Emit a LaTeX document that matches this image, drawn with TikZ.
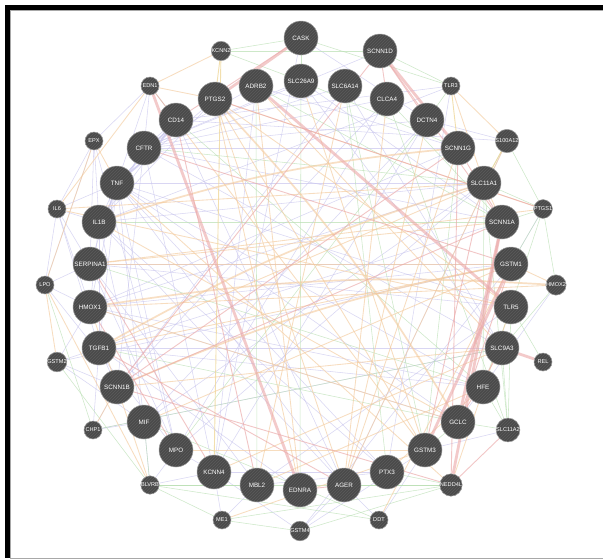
\documentclass[tikz,border=0pt]{standalone}
\usepackage{fontspec}
\setmainfont{Liberation Sans}
\usetikzlibrary{patterns}
\definecolor{ngray}{HTML}{4A4A4A}
\definecolor{nstripe}{HTML}{5C5C5C}
\definecolor{nborder}{HTML}{A0A0A0}
\definecolor{elav}{HTML}{C9C6EE}
\definecolor{egreen}{HTML}{B9DFB2}
\definecolor{eorange}{HTML}{F4CB9E}
\definecolor{eyellow}{HTML}{EFD89A}
\definecolor{epink}{HTML}{EBA8A8}
\definecolor{framegray}{HTML}{A8A8A8}
\pgfdeclarelayer{back}
\pgfdeclarelayer{bg}
\pgfsetlayers{back,bg,main}
\begin{document}
\begin{tikzpicture}[x=1pt,y=-1pt,
  gene/.style={circle, inner sep=0pt, minimum size=34pt, preaction={fill=ngray},
    pattern=north east lines, pattern color=nstripe, draw=nborder, line width=0.5pt,
    text=white, font=\fontsize{6.3}{6.3}\selectfont},
  sgene/.style={gene, minimum size=18pt, font=\fontsize{5.6}{5.6}\selectfont},
  lav/.style={draw=elav, line width=0.55pt, opacity=0.7},
  grn/.style={draw=egreen, line width=0.55pt, opacity=0.7},
  org/.style={draw=eorange, line width=0.85pt, opacity=0.65},
  ylw/.style={draw=eyellow, line width=0.9pt, opacity=0.8},
  pnk/.style={draw=epink, line width=0.9pt, opacity=0.65},
  thickpnk/.style={draw=epink, line width=2.8pt, opacity=0.6},
  midorg/.style={draw=eorange, line width=1.7pt, opacity=0.6}]
\useasboundingbox (0,0) rectangle (603,560);
\begin{pgfonlayer}{back}
\fill[white] (0,0) rectangle (603,560);
\fill[black] (5,5) rectangle (603,10);
\fill[black] (5,5) rectangle (10,558);
\draw[framegray, line width=0.8pt] (10,10.6) -- (603,10.6);
\draw[framegray, line width=0.8pt] (10.6,10) -- (10.6,558);
\draw[framegray, line width=1.5pt] (10,558.5) -- (603,558.5);
\end{pgfonlayer}

% nodes
\node[gene] (CASK) at (301,38) {CASK};
\node[sgene] (KCNN2) at (221,51) {KCNN2};
\node[gene] (SCNN1D) at (380,51) {SCNN1D};
\node[sgene] (EDN1) at (150,86) {EDN1};
\node[gene] (PTGS2) at (215,99) {PTGS2};
\node[gene] (ADRB2) at (256,86) {ADRB2};
\node[gene] (SLC26A9) at (301,81) {SLC26A9};
\node[gene] (SLC6A14) at (345,86) {SLC6A14};
\node[gene] (CLCA4) at (387,99) {CLCA4};
\node[sgene] (TLR3) at (451,86) {TLR3};
\node[gene] (CD14) at (176,120) {CD14};
\node[gene] (DCTN4) at (427,120) {DCTN4};
\node[sgene] (EPX) at (94,141) {EPX};
\node[gene] (CFTR) at (144,148) {CFTR};
\node[gene] (SCNN1G) at (458,148) {SCNN1G};
\node[sgene] (S100A12) at (507,141) {S100A12};
\node[gene] (TNF) at (117,183) {TNF};
\node[gene] (SLC11A1) at (484,183) {SLC11A1};
\node[sgene] (IL6) at (57,209) {IL6};
\node[sgene] (PTGS1) at (543,209) {PTGS1};
\node[gene] (IL1B) at (99,222) {IL1B};
\node[gene] (SCNN1A) at (502,222) {SCNN1A};
\node[gene] (SERPINA1) at (90,264) {SERPINA1};
\node[gene] (GSTM1) at (511,264) {GSTM1};
\node[sgene] (LPO) at (45,285) {LPO};
\node[sgene] (HMOX2) at (556,285) {HMOX2};
\node[gene] (HMOX1) at (90,307) {HMOX1};
\node[gene] (TLR5) at (511,307) {TLR5};
\node[gene] (TGFB1) at (99,348) {TGFB1};
\node[gene] (SLC9A3) at (502,348) {SLC9A3};
\node[sgene] (GSTM2) at (57,362) {GSTM2};
\node[sgene] (REL) at (543,362) {REL};
\node[gene] (SCNN1B) at (117,387) {SCNN1B};
\node[gene] (HFE) at (483,387) {HFE};
\node[gene] (MIF) at (144,422) {MIF};
\node[sgene] (CHP1) at (93,430) {CHP1};
\node[gene] (GCLC) at (458,422) {GCLC};
\node[sgene] (SLC11A2) at (508,430) {SLC11A2};
\node[gene] (MPO) at (176,450) {MPO};
\node[gene] (GSTM3) at (425,450) {GSTM3};
\node[gene] (KCNN4) at (214,472) {KCNN4};
\node[gene] (PTX3) at (387,472) {PTX3};
\node[sgene] (BLVRB) at (150,485) {BLVRB};
\node[sgene] (NEDD4L) at (451,485) {NEDD4L};
\node[gene] (MBL2) at (257,485) {MBL2};
\node[gene] (AGER) at (344,485) {AGER};
\node[gene] (EDNRA) at (300,490) {EDNRA};
\node[sgene] (ME1) at (222,520) {ME1};
\node[sgene] (DDT) at (379,520) {DDT};
\node[sgene] (GSTM4) at (300,531) {GSTM4};

\begin{pgfonlayer}{bg}
% lavender edges
\foreach \a/\b in {TNF/IL1B, TNF/IL6, TNF/CD14, TNF/SERPINA1, TNF/HMOX1, TNF/TGFB1, TNF/MIF,
  TNF/MPO, TNF/PTGS2, TNF/EDN1, TNF/AGER, TNF/PTX3, TNF/TLR5, TNF/SLC11A1, TNF/GCLC, TNF/HFE,
  IL1B/IL6, IL1B/CD14, IL1B/PTGS2, IL1B/MIF, IL1B/TGFB1, IL1B/AGER, IL1B/PTX3, IL1B/TLR3,
  IL1B/SLC11A1, IL1B/HMOX1, IL1B/EPX, IL6/LPO, IL6/EPX, IL6/SERPINA1, IL6/HMOX1, IL6/TGFB1,
  CD14/TLR3, CD14/AGER, CD14/S100A12, CFTR/SLC26A9, CFTR/SLC6A14, CFTR/SCNN1A, CD14/CFTR,
  CFTR/SCNN1B, CFTR/SCNN1G, CFTR/SLC9A3, CFTR/ADRB2, CFTR/CLCA4, CFTR/KCNN4, CFTR/DCTN4,
  MPO/EPX, MPO/LPO, MPO/SERPINA1, MPO/BLVRB, MPO/KCNN4, KCNN4/BLVRB, KCNN4/ME1,
  KCNN4/GSTM4, MBL2/ME1, MBL2/PTX3, MBL2/SERPINA1, AGER/S100A12, AGER/DDT, AGER/GSTM4,
  GSTM1/GSTM2, GSTM1/GSTM4, GSTM1/HMOX1, GSTM3/GSTM4, GSTM3/DDT, GCLC/HMOX1, GCLC/HMOX2,
  TGFB1/GSTM2, TGFB1/SCNN1B, TGFB1/CHP1, TGFB1/SLC9A3, TGFB1/EDNRA, SERPINA1/LPO,
  SERPINA1/EPX, SERPINA1/TLR5, HMOX1/LPO, HMOX1/GSTM2, SCNN1B/CHP1, SCNN1B/GSTM2, MIF/CHP1,
  MIF/BLVRB, MIF/GSTM2, MIF/SLC11A1, MIF/DCTN4, ADRB2/KCNN4, ADRB2/SCNN1G, SLC26A9/SLC9A3,
  SLC26A9/SCNN1A, SLC6A14/SCNN1B, SLC6A14/SLC9A3, CLCA4/SCNN1B, CLCA4/MPO, DCTN4/KCNN4,
  SCNN1G/HMOX1, SCNN1A/TGFB1, SLC11A1/HMOX1, SLC11A1/MPO, GSTM1/SERPINA1, TLR5/MBL2,
  TLR3/PTX3, HFE/HMOX1, HFE/TGFB1, PTX3/KCNN4, CASK/KCNN4, CASK/DCTN4, EDN1/EPX, EDN1/CFTR,
  EPX/LPO, PTGS1/GSTM1, SLC9A3/CHP1, SCNN1D/CFTR, DCTN4/S100A12, SLC11A2/GSTM3}
  \draw[lav] (\a) -- (\b);
\foreach \a/\b in {CD14/CFTR, CFTR/TNF, TNF/IL1B, CD14/TNF}
  \draw[lav, line width=1.6pt] (\a) to[bend left=8] (\b);
% green edges
\foreach \a/\b in {SLC11A1/SLC11A2, SLC11A1/HFE, SLC11A1/PTGS1, SLC11A1/S100A12, HFE/SLC11A2,
  HFE/TLR5, SLC9A3/CHP1, SLC9A3/SLC11A2, GSTM1/PTGS1, GSTM2/BLVRB, BLVRB/ME1, BLVRB/NEDD4L,
  BLVRB/MIF, ME1/NEDD4L, DDT/MIF, DDT/BLVRB, GSTM4/NEDD4L, SLC26A9/SCNN1G, CASK/KCNN2,
  CASK/SLC26A9, CASK/TLR3, SCNN1D/TLR3, ADRB2/SCNN1A, CD14/HFE, SLC6A14/GSTM3,
  CLCA4/SLC11A2, DCTN4/MPO, TLR5/REL, PTGS1/HMOX2, SCNN1A/PTGS1, PTX3/NEDD4L, AGER/NEDD4L,
  GCLC/SLC11A2, KCNN2/SLC26A9, LPO/CHP1, SLC6A14/PTX3, SLC26A9/EDNRA, KCNN2/SCNN1D,
  CFTR/SLC11A1, S100A12/PTGS1, TLR3/DCTN4, PTGS1/TLR5, GSTM3/GCLC, SCNN1G/GSTM3,
  SLC9A3/HMOX2, EDN1/CD14, MBL2/BLVRB, GSTM4/ME1, TLR5/SLC11A2, ADRB2/MBL2, IL1B/SCNN1A,
  SERPINA1/HFE, TGFB1/GCLC, CLCA4/SCNN1A}
  \draw[grn] (\a) -- (\b);
% orange edges
\foreach \a/\b in {HMOX1/HMOX2, HMOX1/BLVRB, SERPINA1/PTGS1, SERPINA1/GSTM1, TGFB1/SLC11A1,
  TGFB1/GSTM1, PTGS2/PTGS1, PTGS2/EDNRA, PTGS2/TLR5, PTGS2/AGER, PTGS2/GSTM3, EDN1/PTGS2,
  EDN1/KCNN2, LPO/EPX, LPO/BLVRB, ADRB2/EDNRA, ADRB2/SLC9A3, SLC26A9/GSTM3,
  SLC6A14/MBL2, CLCA4/AGER, DCTN4/AGER, S100A12/AGER, TLR3/SLC11A1, PTX3/HFE, TNF/NEDD4L,
  IL6/SLC11A1, IL1B/GCLC, MIF/GSTM1, MPO/GSTM3, SCNN1B/SLC9A3, HMOX1/GCLC, HMOX2/GSTM1,
  EDN1/IL6, CD14/GSTM3, SCNN1G/AGER, TLR3/S100A12, GSTM2/LPO, CHP1/SCNN1B, MBL2/HFE,
  IL6/TLR5, ME1/GSTM3, DDT/GSTM1, SERPINA1/SCNN1A, EPX/TNF, SLC11A1/SCNN1A, TLR5/NEDD4L,
  KCNN4/SLC9A3}
  \draw[org] (\a) -- (\b);
\foreach \a/\b in {KCNN2/KCNN4, KCNN2/PTGS2, TLR3/SCNN1G, S100A12/SLC11A1}
  \draw[ylw] (\a) -- (\b);
\foreach \a/\b in {HMOX1/HMOX2, TGFB1/SLC11A1, IL1B/SCNN1G, SCNN1B/GSTM1, PTGS2/GCLC}
  \draw[midorg] (\a) to[bend left=6] (\b);
% pink edges
\foreach \a/\b in {SCNN1D/SCNN1A, SCNN1D/SCNN1B, SCNN1A/SCNN1G, SCNN1A/SCNN1B,
  SCNN1B/SCNN1G, NEDD4L/SCNN1G, NEDD4L/SCNN1B, GCLC/GSTM1, NEDD4L/SLC11A2,
  GCLC/SLC9A3, CD14/MBL2, MPO/HMOX1, CASK/CD14, EDN1/CD14, PTGS2/PTGS1, SCNN1D/CLCA4,
  TGFB1/AGER, SERPINA1/KCNN4, SLC11A1/GSTM3, EDNRA/AGER, CFTR/GSTM1, SCNN1D/DCTN4}
  \draw[pnk] (\a) -- (\b);
\foreach \a/\b in {CASK/PTGS2, ADRB2/TLR5, EDN1/EDNRA, SCNN1D/SCNN1G, SLC9A3/REL,
  GSTM3/GSTM1, NEDD4L/SCNN1A, GCLC/SCNN1A}
  \draw[thickpnk] (\a) -- (\b);
\end{pgfonlayer}
\end{tikzpicture}
\end{document}
